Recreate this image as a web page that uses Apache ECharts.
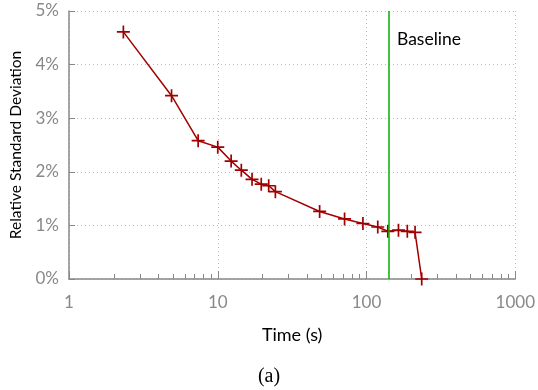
<!DOCTYPE html>
<html>
<head>
<meta charset="utf-8">
<script src="https://cdn.jsdelivr.net/npm/echarts@6/dist/echarts.min.js"></script>
<style>
  html, body { margin: 0; padding: 0; background: #fff; }
  #chart { width: 538px; height: 390px; }
</style>
</head>
<body>
<div id="chart"></div>
<script>
// time in seconds, relative std deviation in %
const times = [2.32, 4.89, 7.38, 10.0, 12.3, 14.4, 17.0, 19.6, 22.0, 24.4, 48.4, 71.2, 94.6, 119, 139, 164, 188, 212, 235];
const rsd = [4.61, 3.42, 2.58, 2.46, 2.20, 2.03, 1.86, 1.77, 1.74, 1.63, 1.26, 1.12, 1.035, 0.97, 0.89, 0.91, 0.89, 0.87, 0];
const baselineTime = 140;
const minorTicks = [2, 3, 4, 5, 6, 7, 8, 9, 20, 30, 40, 50, 60, 70, 80, 90, 200, 300, 400, 500, 600, 700, 800, 900];

const FONT = 'Lato, "Open Sans", sans-serif';
const lineColor = '#a00000';

const chart = echarts.init(document.getElementById('chart'), null, { renderer: 'canvas' });

chart.setOption({
  animation: false,
  grid: { left: 68, right: 22, top: 11, bottom: 111 },
  title: {
    text: '(a)',
    left: 'center',
    top: 362,
    textStyle: { fontFamily: '"Liberation Serif", "DejaVu Serif", serif', fontSize: 20, fontWeight: 'normal', color: '#000' }
  },
  graphic: [{
    type: 'text',
    left: 397,
    top: 30,
    style: { text: 'Baseline', font: '17.5px ' + FONT, fill: '#000' }
  }],
  xAxis: [{
    type: 'log',
    logBase: 10,
    min: 1,
    max: 1000,
    name: 'Time (s)',
    nameLocation: 'middle',
    nameGap: 47,
    nameTextStyle: { fontFamily: FONT, fontSize: 18, color: '#000' },
    axisLine: { lineStyle: { color: '#888', width: 1.5 } },
    axisTick: { inside: true, length: 8, lineStyle: { color: '#888' } },
    axisLabel: { fontFamily: FONT, fontSize: 17, color: '#888', margin: 15, formatter: v => String(v) },
    splitLine: { show: true, lineStyle: { color: '#bbb', type: [1, 3] } }
  }, {
    type: 'log',
    logBase: 10,
    min: 1,
    max: 1000,
    position: 'bottom',
    axisLine: { show: false },
    axisLabel: { show: false },
    axisTick: { inside: true, length: 5, customValues: minorTicks, lineStyle: { color: '#888' } },
    splitLine: { show: false }
  }],
  yAxis: {
    type: 'value',
    min: 0,
    max: 5,
    interval: 1,
    name: 'Relative Standard Deviation',
    nameLocation: 'middle',
    nameGap: 45,
    nameTextStyle: { fontFamily: FONT, fontSize: 15.5, color: '#000' },
    axisLine: { show: true, lineStyle: { color: '#888', width: 1.5 } },
    axisTick: { show: true, inside: true, length: 6, lineStyle: { color: '#888' } },
    axisLabel: { fontFamily: FONT, fontSize: 17, color: '#888', margin: 10, formatter: '{value}%' },
    splitLine: { show: true, lineStyle: { color: '#bbb', type: [1, 3] } }
  },
  series: [{
    type: 'line',
    data: times.map((t, i) => [t, rsd[i]]),
    lineStyle: { color: lineColor, width: 1.5 },
    symbol: 'path://M5,0L5,10M0,5L10,5',
    symbolSize: 13,
    itemStyle: { color: 'none', borderColor: lineColor, borderWidth: 1.7 },
    markLine: {
      silent: true,
      symbol: 'none',
      label: { show: false },
      lineStyle: { color: '#00b000', width: 1.5, type: 'solid' },
      data: [{ xAxis: baselineTime }]
    }
  }]
});
</script>
</body>
</html>
